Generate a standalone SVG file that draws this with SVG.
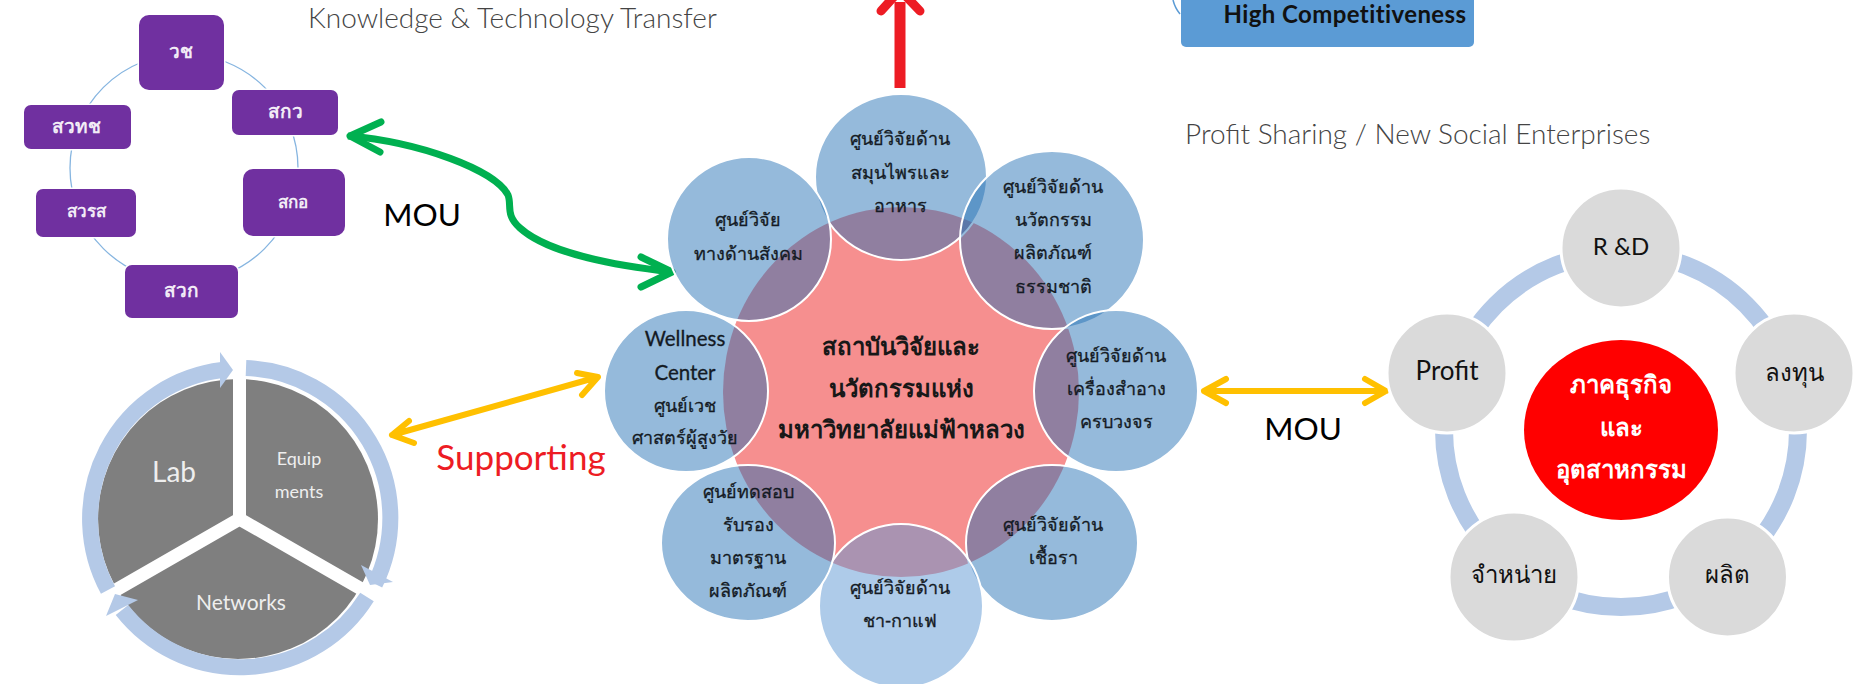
<svg xmlns="http://www.w3.org/2000/svg" width="1864" height="684" viewBox="0 0 1864 684">
<style>
text{font-family:"Lato","Liberation Sans","Noto Sans",sans-serif;text-anchor:middle}
.pb{fill:#7030a0;stroke:#fff;stroke-width:3;paint-order:stroke}
.pt{fill:#f2ecf6;font-size:19px;font-weight:700}
.pts{fill:#f2ecf6;font-size:17px;font-weight:700}
.title{fill:#444;font-size:28px;font-weight:300;text-anchor:start}
.pet{fill:#226fb4;fill-opacity:.48;stroke:#fff;stroke-width:2}
.pett{fill:#141a24;font-size:18px;stroke:#141a24;stroke-width:.3}
.cen{fill:#181818;font-size:24px;font-weight:700}
.gc{fill:#dadada;stroke:#fff;stroke-width:3}
.gt{fill:#111;font-size:24px}
.rt{fill:#fff;font-size:24px;font-weight:700}
.lab{font-size:31.500px;fill:#000}
.y{fill:none;stroke:#ffc000;stroke-width:6;stroke-linecap:round;stroke-linejoin:round}
.ring{fill:none;stroke:#b4c9e7}
.ah{fill:#b4c9e7}
.pie{fill:#eee}
</style>

<g id="connectors">
<path d="M348,136C420,142 495,170 508,195C512,205 505,215 520,228C550,255 620,266 672,272" fill="none" stroke="#00b050" stroke-width="7"/>
<path d="M381,122L350,136L380,152M641,257L672,272L641,287" fill="none" stroke="#00b050" stroke-width="7" stroke-linecap="round" stroke-linejoin="round"/>
<path d="M900,88V2" fill="none" stroke="#ed1c24" stroke-width="11"/>
<path d="M881,11L900,-10L920,11" fill="none" stroke="#ed1c24" stroke-width="9" stroke-linecap="round"/>
<path class="y" d="M392,435L598,377M409,421L392,435L414,443M577,373L598,377L582,395"/>
<path class="y" d="M1204,391H1386M1226,379L1204,391L1226,403M1365,379L1386,391L1365,403"/>
</g>

<g id="competitive">
<path d="M1173,0Q1175,8 1180,14" fill="none" stroke="#5b9bd5" stroke-width="1.5"/>
<rect x="1181" y="-20" width="293" height="67" rx="5" fill="#5b9bd5"/>
<text x="1345" y="23" font-size="24" font-weight="700" letter-spacing=".4" fill="#111">High Competitiveness</text>
</g>

<g id="partners">
<circle cx="184" cy="168" r="114" fill="none" stroke="#86b5e0" stroke-width="1.3"/>
<g id="p-wch"><rect class="pb" x="139" y="15" width="85" height="75" rx="10"/><text class="pt" x="181" y="58">วช</text></g>
<g id="p-skw"><rect class="pb" x="232" y="90" width="106" height="45" rx="7"/><text class="pt" x="285" y="118">สกว</text></g>
<g id="p-sko"><rect class="pb" x="243" y="169" width="102" height="67" rx="10"/><text class="pts" x="293" y="208">สกอ</text></g>
<g id="p-swk"><rect class="pb" x="125" y="265" width="113" height="53" rx="7"/><text class="pt" x="181" y="297">สวก</text></g>
<g id="p-swrs"><rect class="pb" x="36" y="189" width="100" height="48" rx="7"/><text class="pts" x="86" y="217">สวรส</text></g>
<g id="p-swtch"><rect class="pb" x="24" y="105" width="107" height="44" rx="7"/><text class="pt" x="76" y="133">สวทช</text></g>
</g>

<g id="pie">
<circle cx="238" cy="519" r="140" fill="#7f7f7f"/>
<path d="M239.500,519V355M239.500,519L95,602M239.500,519L384,602" fill="none" stroke="#fff" stroke-width="13"/>
<path fill="none" stroke="#fff" stroke-width="22" d="M246,368A150,150 0 0 1 375,584"/>
<path class="ring" stroke-width="16" d="M246,368A150,150 0 0 1 375,584"/>
<polygon class="ah" points="361,565 393,582 370,585"/>
<path class="ring" stroke-width="16" d="M367,597A150,150 0 0 1 122,610"/>
<polygon class="ah" points="138,600 106,616 115,594"/>
<path class="ring" stroke-width="16" d="M108,590A150,150 0 0 1 222,370"/>
<polygon class="ah" points="220,352 220,388 233,370"/>
<text class="pie" x="174" y="482" font-size="28">Lab</text>
<text class="pie" x="299" y="465" font-size="18">Equip</text>
<text class="pie" x="299" y="498" font-size="18">ments</text>
<text class="pie" x="241" y="610" font-size="21">Networks</text>
</g>

<g id="center"><ellipse cx="901" cy="392" rx="178" ry="185" fill="#f68f8f"/>
<text class="cen" x="901" y="355">สถาบันวิจัยและ</text>
<text class="cen" x="901" y="397">นวัตกรรมแห่ง</text>
<text class="cen" x="901" y="438">มหาวิทยาลัยแม่ฟ้าหลวง</text></g>

<g id="petal-top"><ellipse class="pet" cx="901" cy="177" rx="86" ry="83"/>
<text class="pett" x="900" y="145">ศูนย์วิจัยด้าน</text><text class="pett" x="900" y="179">สมุนไพรและ</text><text class="pett" x="900" y="212">อาหาร</text></g>
<g id="petal-ur"><ellipse class="pet" cx="1052" cy="240" rx="92" ry="89"/>
<text class="pett" x="1053" y="193">ศูนย์วิจัยด้าน</text><text class="pett" x="1053" y="226">นวัตกรรม</text><text class="pett" x="1053" y="259">ผลิตภัณฑ์</text><text class="pett" x="1053" y="293">ธรรมชาติ</text></g>
<g id="petal-r"><ellipse class="pet" cx="1116" cy="391" rx="82" ry="81"/>
<text class="pett" x="1116" y="362">ศูนย์วิจัยด้าน</text><text class="pett" x="1116" y="395">เครื่องสำอาง</text><text class="pett" x="1116" y="428">ครบวงจร</text></g>
<g id="petal-lr"><ellipse class="pet" cx="1052" cy="543" rx="86" ry="78"/>
<text class="pett" x="1053" y="531">ศูนย์วิจัยด้าน</text><text class="pett" x="1053" y="564">เชื้อรา</text></g>
<g id="petal-b"><ellipse cx="901" cy="606" rx="82" ry="82" fill="#5e98d4" fill-opacity=".5" stroke="#fff" stroke-width="2"/>
<text class="pett" x="900" y="594">ศูนย์วิจัยด้าน</text><text class="pett" x="900" y="627">ชา-กาแฟ</text></g>
<g id="petal-ll"><ellipse class="pet" cx="748" cy="543" rx="87" ry="78"/>
<text class="pett" x="748" y="498">ศูนย์ทดสอบ</text><text class="pett" x="748" y="531">รับรอง</text><text class="pett" x="748" y="564">มาตรฐาน</text><text class="pett" x="748" y="597">ผลิตภัณฑ์</text></g>
<g id="petal-l"><ellipse class="pet" cx="686" cy="391" rx="82" ry="81"/>
<text class="pett" x="685" y="346" style="font-size:20.500px">Wellness</text><text class="pett" x="685" y="380" style="font-size:20.500px">Center</text><text class="pett" x="685" y="412">ศูนย์เวช</text><text class="pett" x="685" y="444">ศาสตร์ผู้สูงวัย</text></g>
<g id="petal-ul"><ellipse class="pet" cx="749" cy="239" rx="82" ry="82"/>
<text class="pett" x="748" y="226">ศูนย์วิจัย</text><text class="pett" x="748" y="260">ทางด้านสังคม</text></g>

<g id="business">
<circle cx="1621" cy="430" r="177" class="ring" stroke-width="18"/>
<g id="b-rd"><circle class="gc" cx="1621" cy="248" r="60"/><text class="gt" x="1621" y="255">R &amp;D</text></g>
<g id="b-invest"><circle class="gc" cx="1794" cy="373" r="60"/><text class="gt" x="1794" y="381">ลงทุน</text></g>
<g id="b-make"><circle class="gc" cx="1727.500" cy="577" r="60"/><text class="gt" x="1727.500" y="583">ผลิต</text></g>
<g id="b-sell"><circle class="gc" cx="1514" cy="577" r="65"/><text class="gt" x="1514" y="583">จำหน่าย</text></g>
<g id="b-profit"><circle class="gc" cx="1447" cy="373" r="60"/><text class="gt" x="1447" y="380" style="font-size:26px">Profit</text></g>
<g id="b-core"><ellipse cx="1621" cy="430" rx="97" ry="90" fill="#f00"/>
<text class="rt" x="1621" y="393">ภาคธุรกิจ</text><text class="rt" x="1621" y="436">และ</text><text class="rt" x="1621" y="478">อุตสาหกรรม</text></g>
</g>

<text class="title" x="308" y="28">Knowledge &amp; Technology Transfer</text>
<text class="title" x="1185" y="144">Profit Sharing / New Social Enterprises</text>
<text class="lab" x="422" y="226">MOU</text>
<text class="lab" x="1303" y="440">MOU</text>
<text class="lab" x="521" y="470" style="fill:#ed1c24;font-size:35px">Supporting</text>
</svg>
